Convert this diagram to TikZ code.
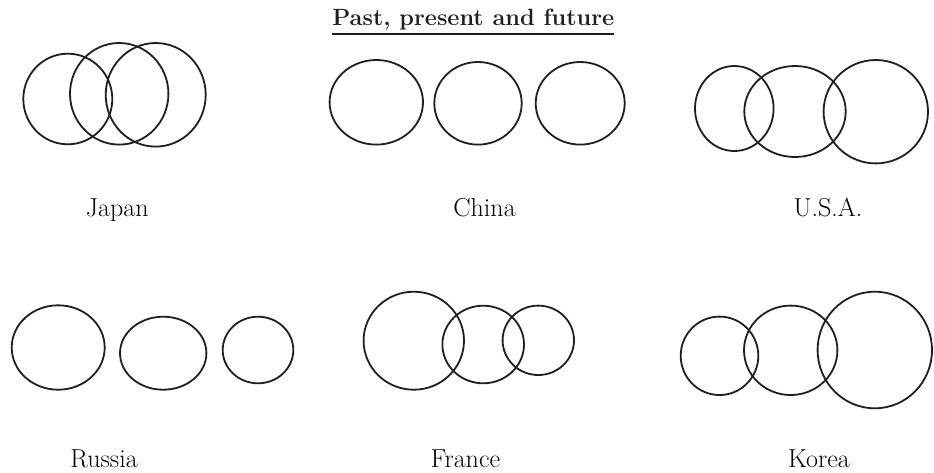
\documentclass[tikz,border=0pt]{standalone}
\begin{document}
\begin{tikzpicture}[x=1pt,y=-1pt,
  ring/.style={line width=1.8pt, black!88},
  lab/.style={font=\fontsize{26}{30}\selectfont, anchor=base, inner sep=0pt},
  ttl/.style={font=\fontsize{23.5}{28}\selectfont\bfseries, anchor=base, inner sep=0pt, text=black!88}]
\useasboundingbox (0,0) rectangle (934,472);
% title
\node[ttl] (title) at (473.3,25) {Past, present and future};
\draw[line width=1.1pt, black!88] ([yshift=-9pt]title.base west) -- ([yshift=-9pt]title.base east);
% Japan
\draw[ring] (67.8,99) ellipse [x radius=44.5pt, y radius=45.3pt];
\draw[ring] (119.2,93.8) ellipse [x radius=49.2pt, y radius=50.8pt];
\draw[ring] (155.7,94.8) ellipse [x radius=50pt, y radius=51.8pt];
% China
\draw[ring] (376.3,102.3) ellipse [x radius=46.7pt, y radius=42.3pt];
\draw[ring] (478,103.3) ellipse [x radius=43.7pt, y radius=41.3pt];
\draw[ring] (580.2,103.3) ellipse [x radius=44.5pt, y radius=41.3pt];
% USA
\draw[ring] (734.3,108.5) ellipse [x radius=39.3pt, y radius=42.5pt];
\draw[ring] (795,111.5) ellipse [x radius=50.7pt, y radius=45.5pt];
\draw[ring] (875.8,111.7) ellipse [x radius=52.2pt, y radius=51.7pt];
% Russia
\draw[ring] (58.2,347.5) ellipse [x radius=46.5pt, y radius=42.2pt];
\draw[ring] (163.2,353.2) ellipse [x radius=43.2pt, y radius=36.5pt];
\draw[ring] (258,350) ellipse [x radius=35.3pt, y radius=33.3pt];
% France
\draw[ring] (413.8,340.7) ellipse [x radius=50.2pt, y radius=49pt];
\draw[ring] (483.2,344.5) ellipse [x radius=40.8pt, y radius=38.8pt];
\draw[ring] (538.3,340.3) ellipse [x radius=35.7pt, y radius=34.7pt];
% Korea
\draw[ring] (719.5,355.8) ellipse [x radius=38.8pt, y radius=39.2pt];
\draw[ring] (790.7,350.3) ellipse [x radius=46.7pt, y radius=44.7pt];
\draw[ring] (874.8,350) ellipse [x radius=57.2pt, y radius=58.3pt];
% labels
\node[lab] (japan) at (117.3,216) {Japan};
\node[lab] (china) at (484.5,216) {China};
\node[lab] (usa) at (827.9,216) {U.S.A.};
\node[lab] (russia) at (104,467.7) {Russia};
\node[lab] (france) at (465.5,467.7) {France};
\node[lab] (korea) at (819,467.7) {Korea};
\end{tikzpicture}
\end{document}
